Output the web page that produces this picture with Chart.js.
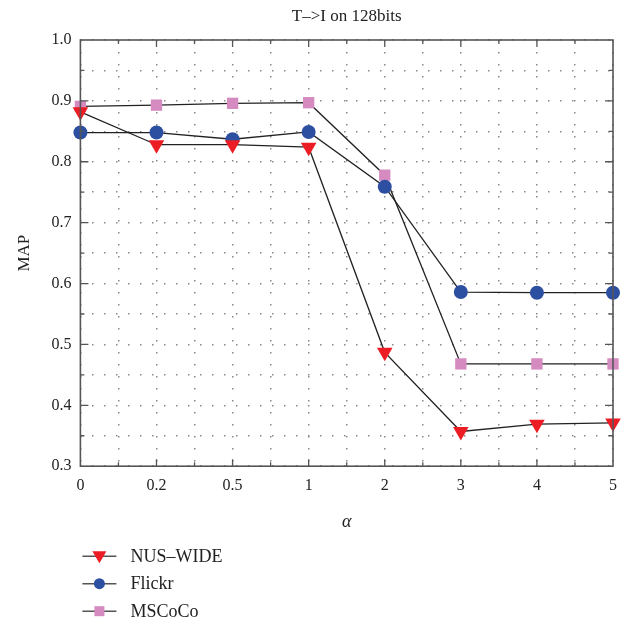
<!DOCTYPE html>
<html lang="en">
<head>
    <meta charset="UTF-8" />
    <title>T->I on 128bits</title>
    <script src="https://cdn.jsdelivr.net/npm/chart.js"></script>
    <style>
        html, body { margin: 0; padding: 0; background: #fff; }
        #wrap { width: 627px; height: 633px; }
    </style>
</head>
<body>
<div id="wrap"><canvas id="mapChart" width="627" height="633"></canvas></div>

<script>
    // alpha values (x categories)
    const alphaLabels = ['0', '0.2', '0.5', '1', '2', '3', '4', '5'];

    // MAP values
    const nusWide = [0.882, 0.828, 0.828, 0.824, 0.487, 0.357, 0.369, 0.371];
    const flickr = [0.848, 0.848, 0.837, 0.849, 0.759, 0.586, 0.585, 0.585];
    const mscoco = [0.891, 0.893, 0.896, 0.897, 0.778, 0.468, 0.468, 0.468];

    const titleText = 'T\u2013>I on 128bits';
    const serif = '"Liberation Serif", "DejaVu Serif", serif';

    function toPoints(values) {
        return values.map((v, i) => ({ x: i, y: v }));
    }

    // frame, inward ticks, title and legend
    const decorPlugin = {
        id: 'decor',
        afterDraw(chart) {
            const ctx = chart.ctx;
            const a = chart.chartArea;
            const xs = chart.scales.x;
            const ys = chart.scales.y;
            ctx.save();
            ctx.strokeStyle = '#555';
            ctx.lineWidth = 1.6;
            ctx.strokeRect(a.left, a.top, a.right - a.left, a.bottom - a.top);

            ctx.lineWidth = 1.3;
            ctx.beginPath();
            for (let k = 1; k < 14; k++) {
                const px = xs.getPixelForValue(k * 0.5);
                const len = k % 2 === 0 ? 7 : 4;
                ctx.moveTo(px, a.bottom); ctx.lineTo(px, a.bottom - len);
                ctx.moveTo(px, a.top); ctx.lineTo(px, a.top + len);
            }
            for (let k = 1; k < 14; k++) {
                const py = ys.getPixelForValue(0.3 + k * 0.05);
                const len = k % 2 === 0 ? 8 : 4;
                ctx.moveTo(a.left, py); ctx.lineTo(a.left + len, py);
                ctx.moveTo(a.right, py); ctx.lineTo(a.right - len, py);
            }
            ctx.stroke();

            // title
            ctx.fillStyle = '#222';
            ctx.font = '17px ' + serif;
            ctx.textAlign = 'center';
            ctx.textBaseline = 'middle';
            ctx.fillText(titleText, (a.left + a.right) / 2, 17);

            // legend
            ctx.textAlign = 'left';
            ctx.font = '18px ' + serif;
            chart.data.datasets.forEach((ds, i) => {
                const y = a.bottom + 90 + i * 27.5;
                const x0 = a.left + 2;
                ctx.strokeStyle = '#555';
                ctx.lineWidth = 1.5;
                ctx.beginPath();
                ctx.moveTo(x0, y); ctx.lineTo(x0 + 34, y);
                ctx.stroke();
                ctx.fillStyle = ds.pointBackgroundColor;
                ctx.beginPath();
                const cx = x0 + 17;
                if (ds.pointStyle === 'triangle') {
                    ctx.moveTo(cx - 7, y - 5); ctx.lineTo(cx + 7, y - 5); ctx.lineTo(cx, y + 7);
                    ctx.closePath();
                } else if (ds.pointStyle === 'circle') {
                    ctx.arc(cx, y, 5.5, 0, Math.PI * 2);
                } else {
                    ctx.rect(cx - 5, y - 5, 10, 10);
                }
                ctx.fill();
                ctx.fillStyle = '#222';
                ctx.fillText(ds.label, x0 + 48, y + 1);
            });
            ctx.restore();
        }
    };

    const ctx = document.getElementById('mapChart').getContext('2d');
    new Chart(ctx, {
        type: 'line',
        data: {
            datasets: [
                {
                    label: 'NUS\u2013WIDE',
                    data: toPoints(nusWide),
                    borderColor: '#222',
                    borderWidth: 1.3,
                    pointStyle: 'triangle',
                    pointRotation: 180,
                    pointRadius: 9,
                    pointBackgroundColor: '#ec1c24',
                    pointBorderColor: '#ec1c24',
                    pointBorderWidth: 0
                },
                {
                    label: 'Flickr',
                    data: toPoints(flickr),
                    borderColor: '#222',
                    borderWidth: 1.3,
                    pointStyle: 'circle',
                    pointRadius: 7,
                    pointBackgroundColor: '#2d4fa1',
                    pointBorderColor: '#2d4fa1',
                    pointBorderWidth: 0
                },
                {
                    label: 'MSCoCo',
                    data: toPoints(mscoco),
                    borderColor: '#222',
                    borderWidth: 1.3,
                    pointStyle: 'rect',
                    pointRadius: 8,
                    pointBackgroundColor: '#d58ac0',
                    pointBorderColor: '#d58ac0',
                    pointBorderWidth: 0
                }
            ]
        },
        options: {
            responsive: false,
            animation: false,
            clip: false,
            layout: { padding: { top: 40, right: 14, bottom: 96, left: 10 } },
            plugins: {
                legend: { display: false },
                title: { display: false },
                tooltip: { enabled: false }
            },
            scales: {
                x: {
                    type: 'linear',
                    min: 0,
                    max: alphaLabels.length - 1,
                    ticks: {
                        stepSize: 0.5,
                        autoSkip: false,
                        maxRotation: 0,
                        color: '#222',
                        font: { family: serif, size: 16 },
                        padding: 10,
                        callback: v => Number.isInteger(v) ? alphaLabels[v] : ''
                    },
                    grid: {
                        color: '#888',
                        lineWidth: 1.5,
                        drawTicks: false
                    },
                    border: { display: false, dash: [1.5, 10.5] },
                    title: {
                        display: true,
                        text: '\u03b1',
                        color: '#222',
                        font: { family: serif, size: 18, style: 'italic' },
                        padding: { top: 6 }
                    }
                },
                y: {
                    min: 0.3,
                    max: 1.0,
                    ticks: {
                        stepSize: 0.05,
                        autoSkip: false,
                        color: '#222',
                        font: { family: serif, size: 16 },
                        padding: 9,
                        callback: v => Math.abs(v * 10 - Math.round(v * 10)) < 1e-6 ? v.toFixed(1) : ''
                    },
                    grid: {
                        color: '#888',
                        lineWidth: 1.5,
                        drawTicks: false
                    },
                    border: { display: false, dash: [1.5, 10.5] },
                    title: {
                        display: true,
                        text: 'MAP',
                        color: '#222',
                        font: { family: serif, size: 17 },
                        padding: { bottom: 8 }
                    }
                }
            }
        },
        plugins: [decorPlugin]
    });
</script>
</body>
</html>
